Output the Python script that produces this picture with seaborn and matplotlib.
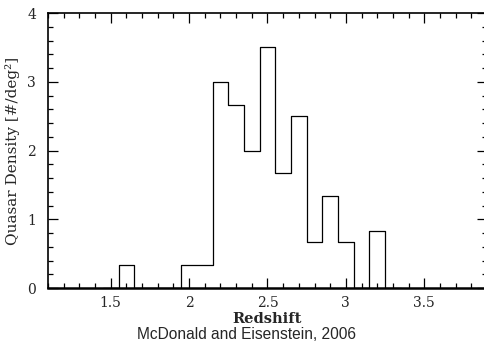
import numpy as np
import pandas as pd
import matplotlib
matplotlib.use("Agg")
import matplotlib.pyplot as plt
from matplotlib.ticker import MultipleLocator
import seaborn as sns

# Redshift bins (centres, width 0.1) and quasar surface density per bin
redshift = [1.6, 1.7, 1.8, 1.9, 2.0, 2.1, 2.2, 2.3, 2.4, 2.5,
            2.6, 2.7, 2.8, 2.9, 3.0, 3.1, 3.2]
density = [0.333, 0.0, 0.0, 0.0, 0.333, 0.333, 3.0, 2.667, 2.0, 3.5,
           1.667, 2.5, 0.667, 1.333, 0.667, 0.0, 0.833]
bin_edges = [1.45, 1.55, 1.65, 1.75, 1.85, 1.95, 2.05, 2.15, 2.25, 2.35,
             2.45, 2.55, 2.65, 2.75, 2.85, 2.95, 3.05, 3.15, 3.25, 3.35]
x_ticks = [1.5, 2.0, 2.5, 3.0, 3.5]
x_tick_labels = ["1.5", "2", "2.5", "3", "3.5"]
y_ticks = [0, 1, 2, 3, 4]

df = pd.DataFrame({"z": redshift, "n": density})

sns.set_style("ticks")
plt.rcParams["font.family"] = ["DejaVu Serif"]

fig = plt.figure(figsize=(4.85, 3.45), dpi=100)
ax = fig.add_axes([0.099, 0.165, 0.905, 0.797])

sns.histplot(data=df, x="z", weights="n", bins=bin_edges, element="step",
             fill=False, color="black", linewidth=0.9, ax=ax)

ax.set_xlim(1.1, 3.9)
ax.set_ylim(0, 4)
ax.set_xticks(x_ticks)
ax.set_xticklabels(x_tick_labels)
ax.set_yticks(y_ticks)
ax.xaxis.set_minor_locator(MultipleLocator(0.1))
ax.yaxis.set_minor_locator(MultipleLocator(0.2))

ax.tick_params(which="both", direction="in", top=True, right=True,
               color="black", labelsize=10, width=0.9)
ax.tick_params(which="major", length=7)
ax.tick_params(which="minor", length=3.5)
ax.tick_params(axis="x", which="major", pad=6)
ax.tick_params(axis="y", which="major", pad=8.5)

for side in ["left", "top", "right"]:
    ax.spines[side].set_linewidth(1.2)
    ax.spines[side].set_color("black")
ax.spines["bottom"].set_linewidth(1.8)
ax.spines["bottom"].set_color("black")

ax.set_xlabel("Redshift", fontsize=10.5, fontweight="bold", labelpad=1)
ax.set_ylabel("Quasar Density [#/deg²]", fontsize=11, labelpad=5)

fig.text(0.508, 0.031, "McDonald and Eisenstein, 2006", ha="center",
         va="center", fontsize=11.2, family=["Liberation Sans"])

fig.savefig("out.png", dpi=100)
